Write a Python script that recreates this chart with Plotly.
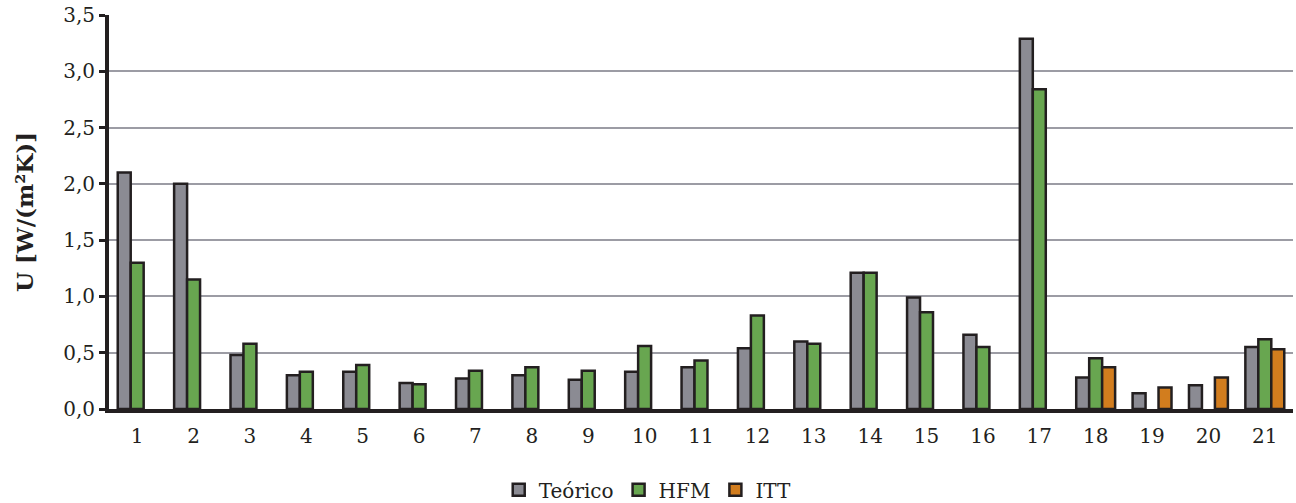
import plotly.graph_objects as go

# Wall sample numbers and thermal transmittance values (U, W/(m²K))
categories = [str(i) for i in range(1, 22)]

teorico = [2.10, 2.00, 0.48, 0.30, 0.33, 0.23, 0.27, 0.30, 0.26, 0.33, 0.37,
           0.54, 0.60, 1.21, 0.99, 0.66, 3.29, 0.28, 0.14, 0.21, 0.55]
hfm = [1.30, 1.15, 0.58, 0.33, 0.39, 0.22, 0.34, 0.37, 0.34, 0.56, 0.43,
       0.83, 0.58, 1.21, 0.86, 0.55, 2.84, 0.45, None, None, 0.62]
itt = [None] * 17 + [0.37, 0.19, 0.28, 0.53]

series_names = ["Teórico", "HFM", "ITT"]
series_colors = ["#8b8b93", "#68a650", "#d27d1e"]

ink = "#231f20"
serif = "DejaVu Serif"

fig = go.Figure()
for name, values, color in zip(series_names, [teorico, hfm, itt], series_colors):
    fig.add_trace(go.Bar(
        x=categories,
        y=values,
        name=name,
        marker=dict(color=color, line=dict(color=ink, width=2.5)),
    ))

fig.update_layout(
    width=1296,
    height=503,
    autosize=False,
    margin=dict(l=109, r=3, t=15, b=94, autoexpand=False),
    plot_bgcolor="white",
    paper_bgcolor="white",
    barmode="group",
    bargap=0.31,
    bargroupgap=0,
    separators=",.",
    font=dict(family=serif, color=ink, size=20),
    legend=dict(
        orientation="h",
        x=0.455,
        xanchor="center",
        y=-0.205,
        yanchor="middle",
        font=dict(family=serif, size=20, color=ink),
        itemwidth=30,
        tracegroupgap=0,
    ),
    xaxis=dict(
        type="category",
        showline=True,
        linecolor=ink,
        linewidth=4,
        ticks="outside",
        ticklen=6,
        tickcolor="rgba(0,0,0,0)",
        tickfont=dict(family=serif, size=20, color=ink),
        showgrid=False,
        tickangle=0,
    ),
    yaxis=dict(
        range=[0, 3.5],
        dtick=0.5,
        tickformat=".1f",
        showline=True,
        linecolor=ink,
        linewidth=4,
        ticks="outside",
        ticklen=6,
        tickwidth=3,
        tickcolor=ink,
        tickfont=dict(family=serif, size=20, color=ink),
        showgrid=True,
        gridcolor="#9c9ca4",
        gridwidth=2,
        zeroline=False,
        title=dict(
            text="<b>U [W/(m²K)]</b>",
            font=dict(family=serif, size=23, color=ink),
            standoff=24,
        ),
    ),
)

fig.write_html("out.html")
